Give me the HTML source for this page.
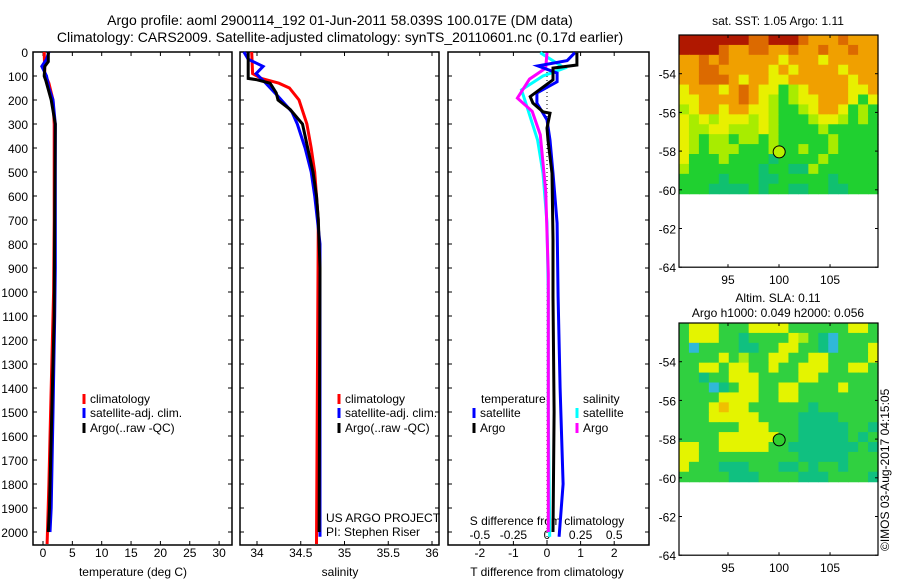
<!DOCTYPE html>
<html><head><meta charset="utf-8"><style>
body{margin:0;background:#fff;}
svg{display:block;font-family:"Liberation Sans",sans-serif;}
text{fill:#000;}
</style></head><body>
<svg id="c" width="900" height="580" viewBox="0 0 900 580" xmlns="http://www.w3.org/2000/svg">
<text x="340" y="25" font-size="14" text-anchor="middle">Argo profile: aoml 2900114_192 01-Jun-2011 58.039S 100.017E (DM data)</text>
<text x="340" y="42" font-size="14" text-anchor="middle">Climatology: CARS2009. Satellite-adjusted climatology: synTS_20110601.nc (0.17d earlier)</text>
<g id="g"></g>
</svg>
<script>
// ---- data ----
const depthTicks=[0,100,200,300,400,500,600,700,800,900,1000,1100,1200,1300,1400,1500,1600,1700,1800,1900,2000];
const tempTicks=[0,5,10,15,20,25,30];
const salTicks=[34,34.5,35,35.5,36];
const tdTicks=[-2,-1,0,1,2];
const sdTicks=[-0.5,-0.25,0,0.25,0.5];
const latTicks=[-54,-56,-58,-60,-62,-64];
const lonTicks=[95,100,105];

const tClimDepth=[0,90,130,200,300,700,1000,1200,1500,1800,2050];
const tClimVal=[0.2,0.3,1.0,1.7,1.9,1.9,1.8,1.6,1.3,1.0,0.7];
const tSatDepth=[0,30,60,100,150,200,300,900,1100,1500,1900,2000];
const tSatVal=[1.0,0.6,-0.2,0.6,1.0,1.7,2.1,2.1,2.0,1.7,1.4,1.2];
const tArgoDepth=[0,40,60,100,120,200,300,700,1100,1500,1900,2000];
const tArgoVal=[0.9,0.9,0.3,0.2,0.5,1.4,2.1,2.0,1.9,1.5,1.1,0.9];

const sClimDepth=[0,90,110,130,150,200,300,400,500,600,700,2050];
const sClimVal=[33.94,33.95,34.05,34.25,34.37,34.48,34.57,34.62,34.66,34.68,34.7,34.68];
const sSatDepth=[0,30,60,90,130,180,250,300,400,500,600,700,800,2020];
const sSatVal=[33.85,33.9,34.07,33.99,34.1,34.23,34.4,34.46,34.55,34.62,34.66,34.69,34.72,34.72];
const sArgoDepth=[0,110,115,130,170,200,240,300,400,500,600,700,900,2000];
const sArgoVal=[33.9,33.9,33.99,34.15,34.22,34.24,34.38,34.52,34.58,34.64,34.68,34.7,34.72,34.71];

const dtSatDepth=[3,36,58,88,124,171,213,283,367,505,713,1020,1400,1800,2020];
const dtSatVal=[0.83,0.6,-0.27,0.3,0.3,-0.3,-0.3,0.0,0.09,0.18,0.3,0.33,0.39,0.48,0.36];
const dtArgoDepth=[3,54,67,116,186,213,249,255,317,367,505,783,1020,1500,2000];
const dtArgoVal=[0.89,0.89,0.18,0.18,-0.5,-0.42,-0.12,0.09,0.0,0.03,0.15,0.18,0.18,0.21,0.18];
const dsSatDepth=[3,67,100,158,226,367,505,713,1020,1500,2020];
const dsSatVal=[-0.05,0.13,-0.03,-0.19,-0.15,-0.07,-0.03,0.0,0.01,0.01,0.02];
const dsArgoDepth=[3,67,113,192,247,345,580,926,1500,2000];
const dsArgoVal=[0.0,-0.01,-0.13,-0.22,-0.11,-0.05,-0.01,0.01,0.01,0.01];

const map1Rows=[
"rrrrrrroorrroaaaoaaa",
"rrrroaaooaaoaaoaaoaa",
"aaoaoaaaaayaaayaaaaa",
"aaooaaaaayayaaaayaaa",
"aaoooayaayyaaaaaayaa",
"yaaayaoayyglyaaaayya",
"yyaaaaoaylglyyaaaygy",
"lyaayaayylgglyaayglg",
"ylylyyylylggglyylglg",
"yllyylllylgggglggggg",
"ylgllgllglggggglgggg",
"ylglllggglgglgglgggg",
"yggglggggtgggglggggg",
"lgggggggtggttlgggggg",
"ggggtgggttgggggtgggg",
"gggttttgtggttggttggg"];
const map2Rows=[
"gyyygggyyyyggggggyyg",
"gyyyggtggggylgtcgggg",
"gcggggttggyyggtcgggy",
"ggggyglggyyggyyggggy",
"ggyygyyggyggyyyggyyg",
"ggtggyyyggggyygggggg",
"gggctgyyggyyggggyggg",
"ggggyyyyggyygggggggg",
"gggyoyyggggggtgggggg",
"gggyyyyyggggttttgggg",
"ggggggyyygggtttttggt",
"ggggyyyyyyggtttttgtg",
"yyggyyyyyggtttttttgt",
"yyggggggggggtttttggg",
"ygggtttgggttgtggtggg",
"gggggtttggggtttggggt"];

// ---- helpers ----
const NS="http://www.w3.org/2000/svg";
const G=document.getElementById('g');
function mk(tag,attrs,parent){const e=document.createElementNS(NS,tag);for(const k in attrs)e.setAttribute(k,attrs[k]);(parent||G).appendChild(e);return e;}
const Y0=52,PY=0.24;
const yD=d=>Y0+d*PY;
const xT=t=>43+t*5.87;
const xS=s=>257+(s-34)*87.5;
const xDT=t=>547+t*33.6;
const xDS=s=>547+s*134.4;
const BOT=545;

function panel(name,x0,x1){
  const r=mk('rect',{x:x0,y:Y0,width:x1-x0,height:BOT-Y0,fill:'none',stroke:'#000','stroke-width':1.5});
  
  
  depthTicks.forEach(d=>{
    mk('line',{x1:x0,x2:x0+4,y1:yD(d),y2:yD(d),stroke:'#000'});
    mk('line',{x1:x1-4,x2:x1,y1:yD(d),y2:yD(d),stroke:'#000'});
  });
}
function xticks(fx,ticks,labels,ly,top){
  ticks.forEach((v,i)=>{
    const x=fx(v);
    mk('line',{x1:x,x2:x,y1:BOT,y2:BOT-4,stroke:'#000'});
    if(top) mk('line',{x1:x,x2:x,y1:Y0,y2:Y0+4,stroke:'#000'});
    const t=mk('text',{x:x,y:ly,'font-size':12,'text-anchor':'middle'});
    t.textContent=labels?labels[i]:String(v);
    
    
  });
}
function line(name,depths,vals,fx,color){
  const pts=depths.map((d,i)=>fx(vals[i]).toFixed(1)+','+yD(d).toFixed(1)).join(' ');
  const p=mk('polyline',{points:pts,fill:'none',stroke:color,'stroke-width':3,'stroke-linejoin':'miter'});
  
  
}
function txt(name,x,y,s,size,anchor){
  const t=mk('text',{x:x,y:y,'font-size':size||12,'text-anchor':anchor||'start'});
  t.textContent=s;
  
  
  return t;
}
function legendEntry(name,x,y,color,label){
  const l=mk('line',{x1:x,x2:x,y1:y-9,y2:y+1,stroke:color,'stroke-width':3});
  
  
  txt(name,x+6,y,label,12);
}

// ---- panel 1: temperature ----
panel('temperature-panel',33,232);
depthTicks.forEach(d=>{txt('y-tick-label',28,yD(d)+5,String(d),12,'end');});
xticks(xT,tempTicks,null,557,true);
txt('x-axis-title-temperature',133,576,'temperature (deg C)',12,'middle');
line('temp-climatology',tClimDepth,tClimVal,xT,'#ff0000');
line('temp-satellite-adj',tSatDepth,tSatVal,xT,'#0000ff');
line('temp-argo',tArgoDepth,tArgoVal,xT,'#000000');
legendEntry('legend-climatology',84,403,'#ff0000','climatology');
legendEntry('legend-satellite-adj',84,417,'#0000ff','satellite-adj. clim.');
legendEntry('legend-argo',84,432,'#000000','Argo(..raw -QC)');

// ---- panel 2: salinity ----
panel('salinity-panel',240,439);
xticks(xS,salTicks,null,557,true);
txt('x-axis-title-salinity',340,576,'salinity',12,'middle');
line('sal-climatology',sClimDepth,sClimVal,xS,'#ff0000');
line('sal-satellite-adj',sSatDepth,sSatVal,xS,'#0000ff');
line('sal-argo',sArgoDepth,sArgoVal,xS,'#000000');
legendEntry('legend-climatology-2',339,403,'#ff0000','climatology');
legendEntry('legend-satellite-adj-2',339,417,'#0000ff','satellite-adj. clim.');
legendEntry('legend-argo-2',339,432,'#000000','Argo(..raw -QC)');
txt('project-label',326,522,'US ARGO PROJECT',12);
txt('pi-label',326,536,'PI: Stephen Riser',12);

// ---- panel 3: differences ----
panel('difference-panel',448,649);
xticks(xDT,tdTicks,null,557,true);
txt('x-axis-title-t-diff',547,576,'T difference from climatology',12,'middle');
sdTicks.forEach(v=>{const t=txt('s-tick-label',xDS(v),539,v===0?'0':String(v),12,'middle');});
txt('s-axis-title',547,525,'S difference from climatology',12,'middle');
const z=mk('line',{x1:547,x2:547,y1:Y0,y2:BOT,stroke:'#000','stroke-dasharray':'1,3'});


line('sdiff-satellite',dsSatDepth,dsSatVal,xDS,'#00ffff');
line('sdiff-argo',dsArgoDepth,dsArgoVal,xDS,'#ff00ff');
line('tdiff-satellite',dtSatDepth,dtSatVal,xDT,'#0000ff');
line('tdiff-argo',dtArgoDepth,dtArgoVal,xDT,'#000000');
txt('legend-temperature-header',481,403,'temperature',12);
txt('legend-salinity-header',583,403,'salinity',12);
legendEntry('legend-t-satellite',474,417,'#0000ff','satellite');
legendEntry('legend-t-argo',474,432,'#000000','Argo');
legendEntry('legend-s-satellite',577,417,'#00ffff','satellite');
legendEntry('legend-s-argo',577,432,'#ff00ff','Argo');

// ---- maps ----
const pal1={r:'#b01800',o:'#dc6a00',a:'#f0a000',y:'#e8f000',l:'#a8ec00',g:'#20d030',t:'#10c070'};
const pal2={g:'#30d040',y:'#e4f400',l:'#a8ec10',t:'#10c080',c:'#30b8d8',o:'#f0c000'};
function drawMap(name,top,rows,pal,dotColor){
  const L=679,R=878,lonL=90.2,lonR=109.7;
  const xL=lon=>L+(lon-lonL)*(R-L)/(lonR-lonL);
  const yL=lat=>top+(-52-lat)*19.35;
  const mg=mk('g',{});
  
  
  const nr=rows.length,nc=rows[0].length;
  const cw=(R-L)/nc,ch=(yL(-60.2)-top)/nr;
  rows.forEach((row,i)=>{for(let j=0;j<nc;j++){
    const c=mk('rect',{x:(L+j*cw).toFixed(2),y:(top+i*ch).toFixed(2),width:(cw+0.6).toFixed(2),height:(ch+0.6).toFixed(2),fill:pal[row[j]]||pal.g},mg);
    
    
  }});
  const b=mk('rect',{x:L,y:top,width:R-L,height:yL(-64)-top,fill:'none',stroke:'#000','stroke-width':1.2});
  
  
  latTicks.forEach(v=>{
    const y=yL(v);
    mk('line',{x1:L,x2:L+3,y1:y,y2:y,stroke:'#000'});
    mk('line',{x1:R-3,x2:R,y1:y,y2:y,stroke:'#000'});
    txt('map-lat-label',676,y+5,String(v),12,'end');
  });
  lonTicks.forEach(v=>{
    const x=xL(v);
    mk('line',{x1:x,x2:x,y1:top,y2:top+3,stroke:'#000'});
    mk('line',{x1:x,x2:x,y1:yL(-64),y2:yL(-64)-3,stroke:'#000'});
    txt('map-lon-label',x,yL(-64)+17,String(v),12,'middle');
  });
  const d=mk('circle',{cx:xL(100.017),cy:yL(-58.039),r:6,fill:dotColor,stroke:'#000','stroke-width':1});
  
  
}
drawMap('sst-map',35,map1Rows,pal1,'#b8f000');
drawMap('sla-map',323,map2Rows,pal2,'#30d030');
txt('sst-map-title',778,25,'sat. SST: 1.05 Argo: 1.11',12,'middle');
txt('sla-map-title-1',778,302,'Altim. SLA: 0.11',12,'middle');
txt('sla-map-title-2',778,317,'Argo h1000: 0.049 h2000: 0.056',12,'middle');
const cr=txt('imos-credit',0,0,'©IMOS 03-Aug-2017 04:15:05',12,'start');
cr.setAttribute('transform','translate(889,551) rotate(-90)');
</script>
</body></html>
